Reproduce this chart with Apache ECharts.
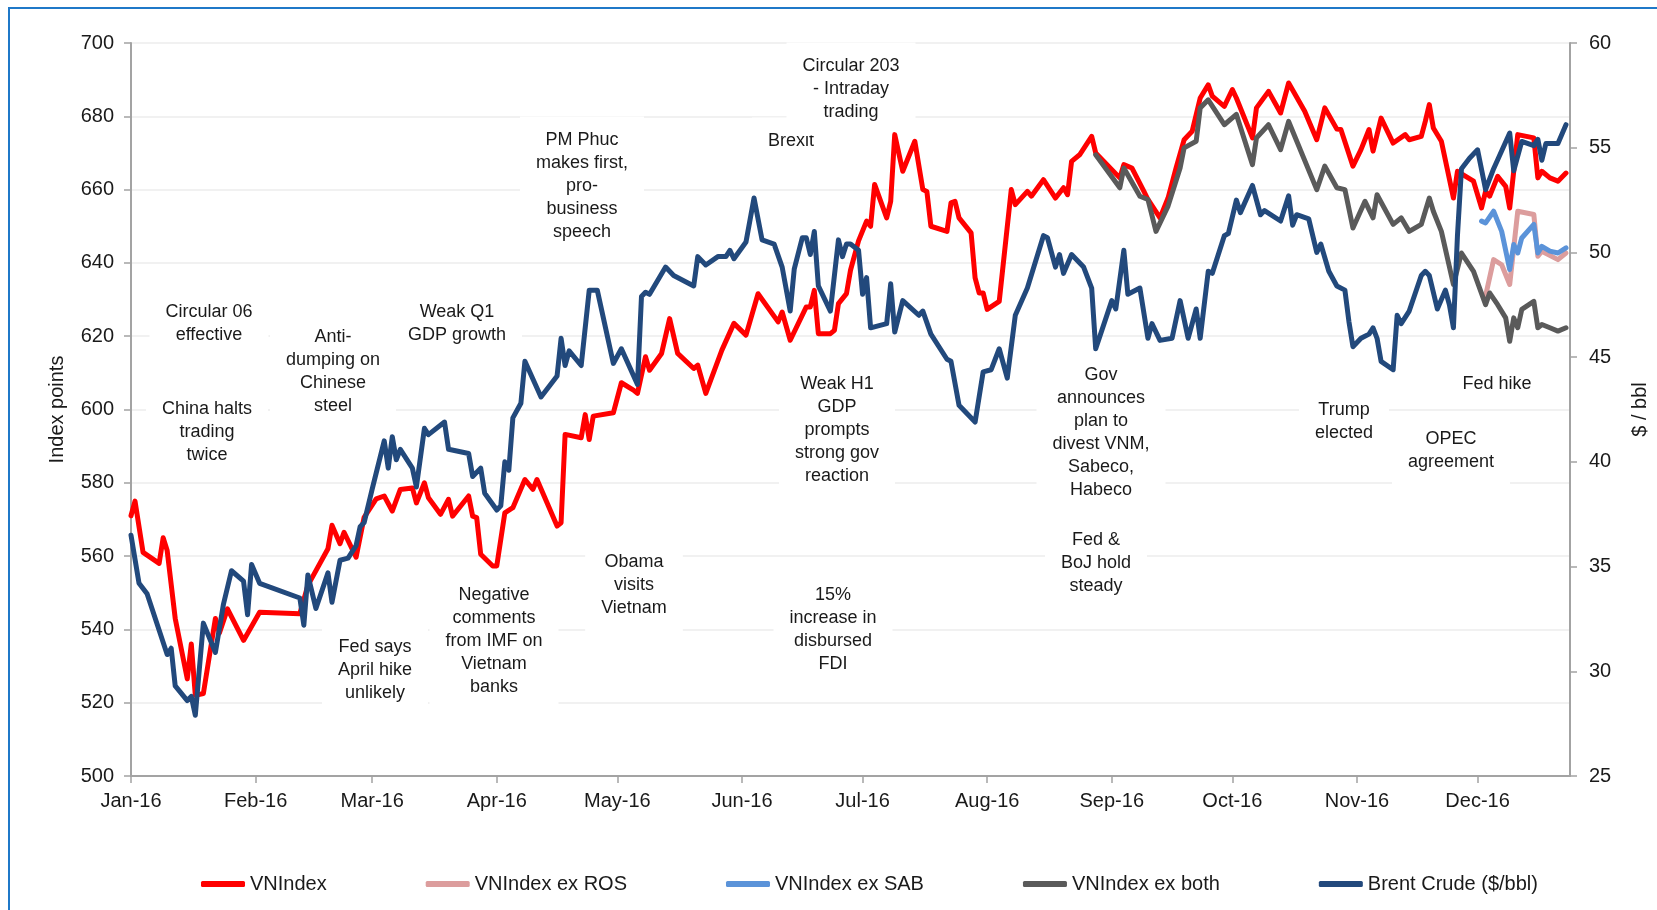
<!DOCTYPE html>
<html>
<head>
<meta charset="utf-8">
<title>VNIndex vs Brent Crude 2016</title>
<script src="https://cdn.jsdelivr.net/npm/echarts@6.0.0/dist/echarts.min.js"></script>
<style>
  html, body { margin: 0; padding: 0; background: #fff; }
  #chart { width: 1657px; height: 910px; }
</style>
</head>
<body>
<div id="chart"></div>
<script>
// month tick labels for the date axis
const monthLabels = ['Jan-16', 'Feb-16', 'Mar-16', 'Apr-16', 'May-16', 'Jun-16',
  'Jul-16', 'Aug-16', 'Sep-16', 'Oct-16', 'Nov-16', 'Dec-16'];

const seriesNames = ['VNIndex', 'VNIndex ex ROS', 'VNIndex ex SAB', 'VNIndex ex both', 'Brent Crude ($/bbl)'];

// VNIndex, index points
const vnIndex = [
  ['2016-01-01', 571], ['2016-01-02', 575], ['2016-01-04', 561], ['2016-01-08', 558], ['2016-01-09', 565],
  ['2016-01-10', 561.5], ['2016-01-12', 543], ['2016-01-15', 526.5], ['2016-01-16', 536], ['2016-01-17', 522],
  ['2016-01-19', 522.5], ['2016-01-22', 543], ['2016-01-23', 539], ['2016-01-25', 545.6], ['2016-01-29', 537],
  ['2016-02-02', 544.7], ['2016-02-12', 544.3], ['2016-02-14', 552], ['2016-02-19', 562], ['2016-02-20', 568.4],
  ['2016-02-22', 563.4], ['2016-02-23', 566.5], ['2016-02-26', 559.7], ['2016-02-28', 570.6], ['2016-03-02', 575.6],
  ['2016-03-04', 576.4], ['2016-03-06', 572.3], ['2016-03-08', 578.2], ['2016-03-11', 578.6], ['2016-03-12', 574.5],
  ['2016-03-14', 580], ['2016-03-15', 575.9], ['2016-03-18', 571.4], ['2016-03-20', 575.5], ['2016-03-21', 570.9],
  ['2016-03-25', 576.4], ['2016-03-26', 570.9], ['2016-03-27', 570.5], ['2016-03-28', 560.5], ['2016-03-31', 557.3],
  ['2016-04-01', 557.3], ['2016-04-03', 571.8], ['2016-04-05', 573.2], ['2016-04-08', 580.9], ['2016-04-10', 578.2],
  ['2016-04-11', 580.9], ['2016-04-16', 568.2], ['2016-04-17', 569.1], ['2016-04-18', 593.2], ['2016-04-22', 592.3],
  ['2016-04-23', 598.6], ['2016-04-24', 591.8], ['2016-04-25', 598.2], ['2016-04-30', 599.1], ['2016-05-02', 607.3],
  ['2016-05-05', 605.3], ['2016-05-06', 604.4], ['2016-05-08', 614.4], ['2016-05-09', 610.7], ['2016-05-12', 615.3],
  ['2016-05-14', 624.8], ['2016-05-16', 615.3], ['2016-05-20', 611.2], ['2016-05-21', 612.1], ['2016-05-23', 604.4],
  ['2016-05-27', 616.2], ['2016-05-30', 623.5], ['2016-06-02', 620.3], ['2016-06-05', 631.6], ['2016-06-10', 623.9],
  ['2016-06-11', 626.6], ['2016-06-13', 618.9], ['2016-06-17', 628], ['2016-06-18', 628], ['2016-06-19', 632.5],
  ['2016-06-20', 620.7], ['2016-06-23', 620.7], ['2016-06-24', 621.6], ['2016-06-25', 628.9], ['2016-06-27', 631.6],
  ['2016-06-28', 638], ['2016-06-30', 646], ['2016-07-02', 651.4], ['2016-07-03', 650], ['2016-07-04', 661.4],
  ['2016-07-07', 652.3], ['2016-07-08', 656.8], ['2016-07-09', 675], ['2016-07-11', 665], ['2016-07-14', 673.2],
  ['2016-07-16', 660], ['2016-07-17', 659.5], ['2016-07-18', 650], ['2016-07-22', 648.6], ['2016-07-23', 656.4],
  ['2016-07-24', 656.8], ['2016-07-25', 652.3], ['2016-07-28', 648.2], ['2016-07-29', 635.9], ['2016-07-30', 631.8],
  ['2016-07-31', 631.8], ['2016-08-01', 627.3], ['2016-08-04', 629.5], ['2016-08-07', 660], ['2016-08-08', 655.9],
  ['2016-08-11', 659.5], ['2016-08-12', 658.2], ['2016-08-15', 662.7], ['2016-08-18', 657.7], ['2016-08-20', 660.5],
  ['2016-08-21', 658.6], ['2016-08-22', 667.7], ['2016-08-24', 669.5], ['2016-08-27', 674.5], ['2016-08-28', 670],
  ['2016-09-03', 663.2], ['2016-09-04', 666.8], ['2016-09-06', 665.9], ['2016-09-09', 659.5], ['2016-09-10', 657.3],
  ['2016-09-13', 652.3], ['2016-09-15', 657.7], ['2016-09-17', 665.9], ['2016-09-19', 673.6], ['2016-09-21', 675.9],
  ['2016-09-23', 685], ['2016-09-25', 688.6], ['2016-09-26', 685.5], ['2016-09-29', 682.7], ['2016-10-01', 687.3],
  ['2016-10-02', 685], ['2016-10-06', 674.1], ['2016-10-07', 682.3], ['2016-10-10', 686.8], ['2016-10-13', 680.9],
  ['2016-10-15', 689.1], ['2016-10-19', 681.4], ['2016-10-22', 673.6], ['2016-10-24', 682.3], ['2016-10-27', 676.5],
  ['2016-10-28', 676.4], ['2016-10-31', 666.4], ['2016-11-02', 670.9], ['2016-11-04', 676.4], ['2016-11-05', 670.5],
  ['2016-11-07', 679.5], ['2016-11-10', 672.7], ['2016-11-13', 675], ['2016-11-14', 673.6], ['2016-11-17', 674.5],
  ['2016-11-18', 678.6], ['2016-11-19', 683.2], ['2016-11-20', 676.8], ['2016-11-22', 673.2], ['2016-11-25', 657.7],
  ['2016-11-26', 665], ['2016-11-30', 662.3], ['2016-12-02', 655], ['2016-12-03', 659.5], ['2016-12-04', 658.2],
  ['2016-12-06', 663.6], ['2016-12-08', 660.9], ['2016-12-09', 655], ['2016-12-11', 675], ['2016-12-15', 674.1],
  ['2016-12-16', 663.2], ['2016-12-17', 665], ['2016-12-19', 663.2], ['2016-12-21', 662.3], ['2016-12-23', 664.5]
];

// VNIndex excluding ROS (only shown once it splits from ex both)
const vnExRos = [
  ['2016-12-03', 631], ['2016-12-05', 640.9], ['2016-12-07', 639.5], ['2016-12-09', 634.1], ['2016-12-11', 654.1],
  ['2016-12-15', 653.2], ['2016-12-16', 641.8], ['2016-12-17', 643.2], ['2016-12-21', 640.9], ['2016-12-23', 642.7]
];

// VNIndex excluding SAB
const vnExSab = [
  ['2016-12-02', 651.4], ['2016-12-03', 650.9], ['2016-12-05', 654.1], ['2016-12-07', 648.6], ['2016-12-09', 638.2],
  ['2016-12-10', 645], ['2016-12-11', 642.7], ['2016-12-12', 646.8], ['2016-12-15', 650.5], ['2016-12-16', 642.7],
  ['2016-12-17', 644.5], ['2016-12-19', 643.2], ['2016-12-21', 642.7], ['2016-12-23', 644.1]
];

// VNIndex excluding both ROS and SAB
const vnExBoth = [
  ['2016-08-28', 669.5], ['2016-09-03', 660.5], ['2016-09-04', 665.9], ['2016-09-08', 658.2], ['2016-09-10', 657.3],
  ['2016-09-12', 648.6], ['2016-09-15', 655.5], ['2016-09-18', 665.9], ['2016-09-19', 671.4], ['2016-09-22', 673.2],
  ['2016-09-23', 682.3], ['2016-09-25', 684.5], ['2016-09-29', 677.7], ['2016-10-02', 680.5], ['2016-10-06', 666.8],
  ['2016-10-07', 674.1], ['2016-10-10', 677.7], ['2016-10-13', 670.9], ['2016-10-15', 678.6], ['2016-10-22', 660],
  ['2016-10-24', 666.4], ['2016-10-27', 660.5], ['2016-10-29', 660], ['2016-10-31', 649.5], ['2016-11-03', 656.8],
  ['2016-11-05', 652.3], ['2016-11-06', 658.6], ['2016-11-10', 650.5], ['2016-11-12', 652.3], ['2016-11-14', 648.6],
  ['2016-11-17', 650.5], ['2016-11-19', 657.7], ['2016-11-20', 654.1], ['2016-11-22', 648.6], ['2016-11-25', 634.1],
  ['2016-11-27', 642.7], ['2016-11-30', 637.7], ['2016-12-03', 628.6], ['2016-12-04', 631.8], ['2016-12-06', 628.6],
  ['2016-12-08', 625], ['2016-12-09', 618.6], ['2016-12-10', 625], ['2016-12-11', 622.3], ['2016-12-12', 627.3],
  ['2016-12-15', 629.5], ['2016-12-16', 622.3], ['2016-12-17', 623.2], ['2016-12-19', 622.3], ['2016-12-21', 621.4],
  ['2016-12-23', 622.3]
];

// Brent crude, $/bbl (right axis)
const brent = [
  ['2016-01-01', 36.5], ['2016-01-03', 34.2], ['2016-01-05', 33.7], ['2016-01-10', 30.8], ['2016-01-11', 31.1],
  ['2016-01-12', 29.3], ['2016-01-15', 28.6], ['2016-01-16', 28.8], ['2016-01-17', 27.9], ['2016-01-19', 32.3],
  ['2016-01-22', 30.9], ['2016-01-24', 33.2], ['2016-01-26', 34.8], ['2016-01-29', 34.3], ['2016-01-30', 32.7],
  ['2016-01-31', 35.1], ['2016-02-02', 34.2], ['2016-02-12', 33.5], ['2016-02-13', 32.2], ['2016-02-14', 34.6],
  ['2016-02-16', 33.0], ['2016-02-19', 34.7], ['2016-02-20', 33.3], ['2016-02-22', 35.3], ['2016-02-24', 35.4],
  ['2016-02-26', 36.0], ['2016-02-27', 36.9], ['2016-02-28', 37.1], ['2016-03-01', 38.7], ['2016-03-04', 41.0],
  ['2016-03-05', 39.7], ['2016-03-06', 41.2], ['2016-03-07', 40.1], ['2016-03-08', 40.6], ['2016-03-11', 39.7],
  ['2016-03-12', 38.8], ['2016-03-14', 41.6], ['2016-03-15', 41.3], ['2016-03-19', 41.9], ['2016-03-20', 40.6],
  ['2016-03-25', 40.4], ['2016-03-26', 39.3], ['2016-03-28', 39.7], ['2016-03-29', 38.5], ['2016-04-01', 37.7],
  ['2016-04-02', 37.9], ['2016-04-03', 40.0], ['2016-04-04', 39.6], ['2016-04-05', 42.1], ['2016-04-07', 42.8],
  ['2016-04-08', 44.8], ['2016-04-12', 43.1], ['2016-04-16', 44.1], ['2016-04-17', 45.9], ['2016-04-18', 44.6],
  ['2016-04-19', 45.3], ['2016-04-22', 44.6], ['2016-04-24', 48.2], ['2016-04-26', 48.2], ['2016-04-30', 44.7],
  ['2016-05-02', 45.4], ['2016-05-06', 43.7], ['2016-05-07', 47.9], ['2016-05-08', 48.1], ['2016-05-09', 48.0],
  ['2016-05-13', 49.3], ['2016-05-15', 48.9], ['2016-05-20', 48.4], ['2016-05-21', 49.8], ['2016-05-23', 49.4],
  ['2016-05-26', 49.8], ['2016-05-28', 49.8], ['2016-05-29', 50.1], ['2016-05-30', 49.7], ['2016-06-02', 50.5],
  ['2016-06-04', 52.6], ['2016-06-06', 50.6], ['2016-06-09', 50.4], ['2016-06-11', 49.3], ['2016-06-13', 47.2],
  ['2016-06-14', 49.2], ['2016-06-16', 50.7], ['2016-06-17', 50.7], ['2016-06-18', 49.9], ['2016-06-19', 51.0],
  ['2016-06-20', 48.4], ['2016-06-23', 47.2], ['2016-06-25', 50.6], ['2016-06-26', 49.8], ['2016-06-27', 50.4],
  ['2016-06-28', 50.4], ['2016-06-30', 50.1], ['2016-07-01', 48.0], ['2016-07-02', 48.8], ['2016-07-03', 46.4],
  ['2016-07-07', 46.6], ['2016-07-08', 48.5], ['2016-07-09', 46.2], ['2016-07-11', 47.7], ['2016-07-15', 47.0],
  ['2016-07-16', 47.2], ['2016-07-18', 46.1], ['2016-07-22', 44.9], ['2016-07-23', 44.8], ['2016-07-25', 42.7],
  ['2016-07-29', 41.9], ['2016-07-31', 44.3], ['2016-08-02', 44.4], ['2016-08-04', 45.4], ['2016-08-06', 44.0],
  ['2016-08-08', 47.0], ['2016-08-11', 48.3], ['2016-08-15', 50.8], ['2016-08-16', 50.7], ['2016-08-18', 49.3],
  ['2016-08-19', 49.9], ['2016-08-20', 49.0], ['2016-08-22', 49.9], ['2016-08-25', 49.3], ['2016-08-27', 48.3],
  ['2016-08-28', 45.4], ['2016-09-01', 47.7], ['2016-09-02', 47.3], ['2016-09-04', 50.1], ['2016-09-05', 48.0],
  ['2016-09-08', 48.3], ['2016-09-10', 45.9], ['2016-09-11', 46.6], ['2016-09-13', 45.8], ['2016-09-16', 45.9],
  ['2016-09-18', 47.7], ['2016-09-20', 45.9], ['2016-09-22', 47.3], ['2016-09-23', 45.9], ['2016-09-25', 49.1],
  ['2016-09-26', 49.0], ['2016-09-29', 50.8], ['2016-09-30', 50.9], ['2016-10-02', 52.5], ['2016-10-03', 51.9],
  ['2016-10-06', 53.2], ['2016-10-08', 51.8], ['2016-10-09', 52.0], ['2016-10-13', 51.5], ['2016-10-15', 52.7],
  ['2016-10-16', 51.3], ['2016-10-17', 51.8], ['2016-10-20', 51.6], ['2016-10-22', 50.0], ['2016-10-23', 50.4],
  ['2016-10-25', 49.1], ['2016-10-27', 48.4], ['2016-10-29', 48.2], ['2016-10-30', 46.7], ['2016-10-31', 45.5],
  ['2016-11-02', 45.9], ['2016-11-04', 46.1], ['2016-11-05', 46.4], ['2016-11-06', 45.9], ['2016-11-07', 44.8],
  ['2016-11-10', 44.4], ['2016-11-11', 47.0], ['2016-11-12', 46.6], ['2016-11-14', 47.2], ['2016-11-17', 48.9],
  ['2016-11-18', 49.1], ['2016-11-19', 48.9], ['2016-11-21', 47.3], ['2016-11-23', 48.2], ['2016-11-24', 47.5],
  ['2016-11-25', 46.4], ['2016-11-26', 50.8], ['2016-11-27', 54.0], ['2016-11-29', 54.5], ['2016-12-01', 54.9],
  ['2016-12-03', 53.0], ['2016-12-05', 54.0], ['2016-12-09', 55.7], ['2016-12-10', 53.9], ['2016-12-12', 55.3],
  ['2016-12-15', 55.1], ['2016-12-16', 55.4], ['2016-12-17', 54.4], ['2016-12-18', 55.2], ['2016-12-21', 55.2],
  ['2016-12-23', 56.1]
];

// event call-outs (text boxes placed on the chart, pixel centres)
const notes = [
  { text: 'Circular 06\neffective', x: 209, y: 324 },
  { text: 'China halts\ntrading\ntwice', x: 207, y: 432 },
  { text: 'Anti-\ndumping on\nChinese\nsteel', x: 333, y: 372 },
  { text: 'Weak Q1\nGDP growth', x: 457, y: 324 },
  { text: 'Fed says\nApril hike\nunlikely', x: 375, y: 670 },
  { text: 'Negative\ncomments\nfrom IMF on\nVietnam\nbanks', x: 494, y: 641 },
  { text: 'PM Phuc\nmakes first,\npro-\nbusiness\nspeech', x: 582, y: 186 },
  { text: 'Obama\nvisits\nVietnam', x: 634, y: 585 },
  { text: 'Brexit', x: 791, y: 141 },
  { text: 'Circular 203\n- Intraday\ntrading', x: 851, y: 89 },
  { text: 'Weak H1\nGDP\nprompts\nstrong gov\nreaction', x: 837, y: 430 },
  { text: '15%\nincrease in\ndisbursed\nFDI', x: 833, y: 630 },
  { text: 'Gov\nannounces\nplan to\ndivest VNM,\nSabeco,\nHabeco', x: 1101, y: 433 },
  { text: 'Fed &\nBoJ hold\nsteady', x: 1096, y: 563 },
  { text: 'Trump\nelected', x: 1344, y: 422 },
  { text: 'Fed hike', x: 1497, y: 384 },
  { text: 'OPEC\nagreement', x: 1451, y: 451 }
];

const colors = ['#ff0000', '#dc9d9d', '#5b93d9', '#5a5a5a', '#22497c'];
const font = '"Liberation Sans", Arial, sans-serif';

const chart = echarts.init(document.getElementById('chart'));

const lineSeries = (name, data, color, axis) => ({
  name: name,
  type: 'line',
  yAxisIndex: axis,
  data: data,
  showSymbol: false,
  symbol: 'none',
  color: color,
  itemStyle: { color: color },
  lineStyle: { color: color, width: 5, cap: 'round', join: 'round' },
  emphasis: { disabled: true }
});

const option = {
  animation: false,
  backgroundColor: '#fff',
  textStyle: { fontFamily: font },
  grid: { left: 131, right: 87, top: 43, bottom: 134, containLabel: false, outerBoundsMode: 'none' },
  legend: {
    data: seriesNames,
    left: 196,
    top: 869,
    icon: 'roundRect',
    itemWidth: 44,
    itemHeight: 6,
    itemGap: 99,
    textStyle: { fontSize: 20, color: '#1a1a1a', fontFamily: font }
  },
  xAxis: {
    type: 'time',
    min: '2016-01-01',
    max: '2016-12-24',
    splitNumber: 12,
    axisLine: { lineStyle: { color: '#a3a3a3', width: 2 } },
    axisTick: { show: true, length: 7, lineStyle: { color: '#a3a3a3', width: 1.5 } },
    axisLabel: {
      fontSize: 20,
      color: '#1a1a1a',
      margin: 15,
      formatter: (value) => monthLabels[new Date(value).getMonth()]
    },
    splitLine: { show: false }
  },
  yAxis: [
    {
      type: 'value',
      min: 500,
      max: 700,
      interval: 20,
      name: 'Index points',
      nameLocation: 'middle',
      nameRotate: 90,
      nameGap: 64,
      nameTextStyle: { fontSize: 20, color: '#1a1a1a' },
      axisLine: { show: true, lineStyle: { color: '#a3a3a3', width: 2 } },
      axisTick: { show: true, length: 7, lineStyle: { color: '#a3a3a3', width: 1.5 } },
      axisLabel: { fontSize: 20, color: '#1a1a1a', margin: 17 },
      splitLine: { show: true, lineStyle: { color: '#ececec', width: 1.5 } }
    },
    {
      type: 'value',
      min: 25,
      max: 60,
      interval: 5,
      position: 'right',
      name: '$ / bbl',
      nameLocation: 'middle',
      nameRotate: 90,
      nameGap: 60,
      nameTextStyle: { fontSize: 20, color: '#1a1a1a' },
      axisLine: { show: true, lineStyle: { color: '#a3a3a3', width: 2 } },
      axisTick: { show: true, length: 7, lineStyle: { color: '#a3a3a3', width: 1.5 } },
      axisLabel: { fontSize: 20, color: '#1a1a1a', margin: 19 },
      splitLine: { show: false }
    }
  ],
  graphic: [
    {
      type: 'rect',
      z: 0,
      silent: true,
      shape: { x: 9, y: 8, width: 1700, height: 950 },
      style: { fill: 'none', stroke: '#1f78c8', lineWidth: 2 }
    }
  ].concat(notes.map((n) => ({
    type: 'text',
    z: 1,
    silent: true,
    x: n.x,
    y: n.y,
    style: {
      text: n.text,
      font: '18px ' + font,
      fill: '#1a1a1a',
      align: 'center',
      verticalAlign: 'middle',
      lineHeight: 23,
      backgroundColor: '#fff',
      padding: [12, 16]
    }
  }))),
  series: [
    lineSeries(seriesNames[0], vnIndex, colors[0], 0),
    lineSeries(seriesNames[1], vnExRos, colors[1], 0),
    lineSeries(seriesNames[2], vnExSab, colors[2], 0),
    lineSeries(seriesNames[3], vnExBoth, colors[3], 0),
    lineSeries(seriesNames[4], brent, colors[4], 1)
  ]
};

chart.setOption(option);
</script>
</body>
</html>
